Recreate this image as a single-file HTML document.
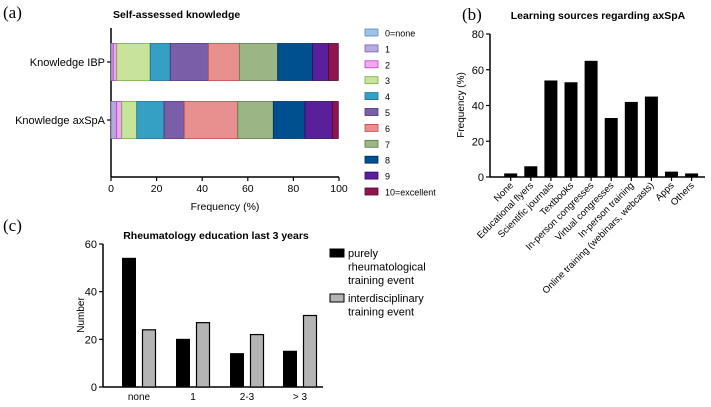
<!DOCTYPE html>
<html><head><meta charset="utf-8">
<style>
html,body{margin:0;padding:0;background:#fff;}
svg{display:block;font-family:"Liberation Sans",Arial,sans-serif;font-size:9.5px;}
.t{fill:#000;}
.ttl{font-size:10.5px;font-weight:bold;fill:#000;}
.pl{font-family:"Liberation Serif",serif;font-size:17px;fill:#000;}
</style></head>
<body>
<svg id="svg" width="711" height="407" viewBox="0 0 711 407">
<text class="pl" x="3" y="18">(a)</text>
<text class="pl" x="462" y="20">(b)</text>
<text class="pl" x="3" y="231">(c)</text>
<text class="ttl" x="113" y="18">Self-assessed knowledge</text>
<text class="ttl" x="598" y="19" text-anchor="middle">Learning sources regarding axSpA</text>
<text class="ttl" x="216" y="239" text-anchor="middle">Rheumatology education last 3 years</text>
<g id="ga"></g><g id="gb"></g><g id="gc"></g>
</svg>
<script>
// ---- Chart A data ----
const aCategories = ["Knowledge IBP","Knowledge axSpA"];
const aLevels = ["0=none","1","2","3","4","5","6","7","8","9","10=excellent"];
const aIBP = [0,1,1.5,14.7,8.8,16.7,13.6,16.8,15.3,7,4.3];
const aAxSpA = [0,2.5,2.2,6.6,12,8.8,23.5,15.6,13.9,12,2.6];
const aTicks = [0,20,40,60,80,100];
// ---- Chart B data ----
const bCategories = ["None","Educational flyers","Scientific journals","Textbooks","In-person congresses","Virtual congresses","In-person training","Online training (webinars, webcasts)","Apps","Others"];
const bValues = [2,6,54,53,65,33,42,45,3,2];
const bTicks = [0,20,40,60,80];
// ---- Chart C data ----
const cCategories = ["none","1","2-3","> 3"];
const cPurely = [54,20,14,15];
const cInter = [24,27,22,30];
const cTicks = [0,20,40,60];
const cSeries = ["purely rheumatological training event","interdisciplinary training event"];

const NS="http://www.w3.org/2000/svg";
function mk(parent,tag,attrs,text){const e=document.createElementNS(NS,tag);for(const k in attrs)e.setAttribute(k,attrs[k]);if(text!==undefined)e.textContent=text;parent.appendChild(e);return e;}

// ---- Chart A ----
(function(){
const g=document.getElementById('ga');
const colors=["#9dc3e6","#b9a8e0","#f0a8f0","#c8e39a","#35a0c4","#7a5fa8","#e89090","#9cb585","#004f8f","#5a1f9a","#8e1650"];
const strokes=["#5a8bc0","#7a5fb0","#c040c0","#7aab40","#1a7090","#4a3080","#c04848","#5a7a48","#002f60","#300a60","#500a30"];
const x0=111,x1=339,yTop=28,yBase=177;
const xs=v=>x0+(x1-x0)*v/100;
const rowsY=[62,120],bh=37;
const l=mk(g,'line',{x1:x0,y1:yTop,x2:x0,y2:yBase,stroke:'#000','stroke-width':1.5});

const xl=mk(g,'line',{x1:x0,y1:yBase,x2:x1,y2:yBase,stroke:'#000','stroke-width':1.5});

aTicks.forEach(t=>{
 mk(g,'line',{x1:xs(t),y1:yBase,x2:xs(t),y2:yBase+4,stroke:'#000','stroke-width':1.2});
 const tx=mk(g,'text',{class:'t',x:xs(t),y:yBase+15,'text-anchor':'middle','font-size':'10.5'},t);
 
});
const xt=mk(g,'text',{class:'t',x:xs(50),y:210,'text-anchor':'middle','font-size':'10.5'},'Frequency (%)');

[aIBP,aAxSpA].forEach((vals,r)=>{
 const cy=rowsY[r];
 mk(g,'line',{x1:x0-4,y1:cy,x2:x0,y2:cy,stroke:'#000','stroke-width':1.2});
 const lab=mk(g,'text',{class:'t',x:x0-6,y:cy+4,'text-anchor':'end','font-size':'11'},aCategories[r]);
 
 let acc=0;
 vals.forEach((v,i)=>{
  if(v>0){
   const rc=mk(g,'rect',{x:xs(acc),y:cy-bh/2,width:xs(acc+v)-xs(acc),height:bh,fill:colors[i],stroke:strokes[i],'stroke-width':0.8});
   
  }
  acc+=v;
 });
});
aLevels.forEach((lv,i)=>{
 const y=33+i*15.9;
 const s=mk(g,'rect',{x:365,y:y-4,width:13,height:7,fill:colors[i],stroke:strokes[i],'stroke-width':0.8});
 
 const t=mk(g,'text',{class:'t',x:385,y:y+3.5,'font-size':'9'},lv);
 
});
})();

// ---- Chart B ----
(function(){
const g=document.getElementById('gb');
const x0=490,x1=705,y0=177,yTopV=34;
const ys=v=>y0-(y0-yTopV)*v/80;
const step=20.1,first=510.7,bw=13;
const ya=mk(g,'line',{x1:x0,y1:yTopV,x2:x0,y2:y0,stroke:'#000','stroke-width':1.5});

const xa=mk(g,'line',{x1:x0,y1:y0,x2:x1,y2:y0,stroke:'#000','stroke-width':1.5});

bTicks.forEach(t=>{
 mk(g,'line',{x1:x0-4,y1:ys(t),x2:x0,y2:ys(t),stroke:'#000','stroke-width':1.2});
 const tx=mk(g,'text',{class:'t',x:x0-6,y:ys(t)+4,'text-anchor':'end','font-size':'11'},t);
 
});
const yt=mk(g,'text',{class:'t',x:0,y:0,'text-anchor':'middle','font-size':'10',transform:'translate(464,105) rotate(-90)'},'Frequency (%)');

bValues.forEach((v,i)=>{
 const cx=first+i*step;
 const r=mk(g,'rect',{x:cx-bw/2,y:ys(v),width:bw,height:y0-ys(v),fill:'#000'});
 
 mk(g,'line',{x1:cx,y1:y0,x2:cx,y2:y0+4,stroke:'#000','stroke-width':1.2});
 const t=mk(g,'text',{class:'t',x:0,y:0,'text-anchor':'end','font-size':'9.5',transform:`translate(${cx+3},${y0+9}) rotate(-45)`},bCategories[i]);
 
});
})();

// ---- Chart C ----
(function(){
const g=document.getElementById('gc');
const x0=103,x1=323,y0=387,yTopV=244;
const ys=v=>y0-(y0-yTopV)*v/60;
const centers=[139,193,247,300],bw=13,off=10;
const ya=mk(g,'line',{x1:x0,y1:yTopV,x2:x0,y2:y0,stroke:'#000','stroke-width':1.5});

const xa=mk(g,'line',{x1:x0,y1:y0,x2:x1,y2:y0,stroke:'#000','stroke-width':1.5});

cTicks.forEach(t=>{
 mk(g,'line',{x1:x0-4,y1:ys(t),x2:x0,y2:ys(t),stroke:'#000','stroke-width':1.2});
 const tx=mk(g,'text',{class:'t',x:x0-6,y:ys(t)+4,'text-anchor':'end','font-size':'11'},t);
 
});
const yt=mk(g,'text',{class:'t',x:0,y:0,'text-anchor':'middle','font-size':'10',transform:'translate(84,315) rotate(-90)'},'Number');

cCategories.forEach((c,i)=>{
 const cx=centers[i];
 const b1=mk(g,'rect',{x:cx-off-bw/2,y:ys(cPurely[i]),width:bw,height:y0-ys(cPurely[i]),fill:'#000',stroke:'#000'});
 
 const b2=mk(g,'rect',{x:cx+off-bw/2,y:ys(cInter[i]),width:bw,height:y0-ys(cInter[i]),fill:'#b4b4b4',stroke:'#000','stroke-width':1.2});
 
 const t=mk(g,'text',{class:'t',x:cx,y:y0+13,'text-anchor':'middle','font-size':'10'},c);
 
});
const s1=mk(g,'rect',{x:330,y:249,width:14,height:8,fill:'#000',stroke:'#000'});

const s2=mk(g,'rect',{x:330,y:294,width:14,height:8,fill:'#b4b4b4',stroke:'#000'});

const l1=mk(g,'text',{class:'t',x:348,y:257,'font-size':'11'});

["purely","rheumatological","training event"].forEach((s,k)=>mk(l1,'tspan',{x:348,dy:k?13.5:0},s));
const l2=mk(g,'text',{class:'t',x:348,y:302,'font-size':'11'});

["interdisciplinary","training event"].forEach((s,k)=>mk(l2,'tspan',{x:348,dy:k?13.5:0},s));
})();
</script>
</body></html>
